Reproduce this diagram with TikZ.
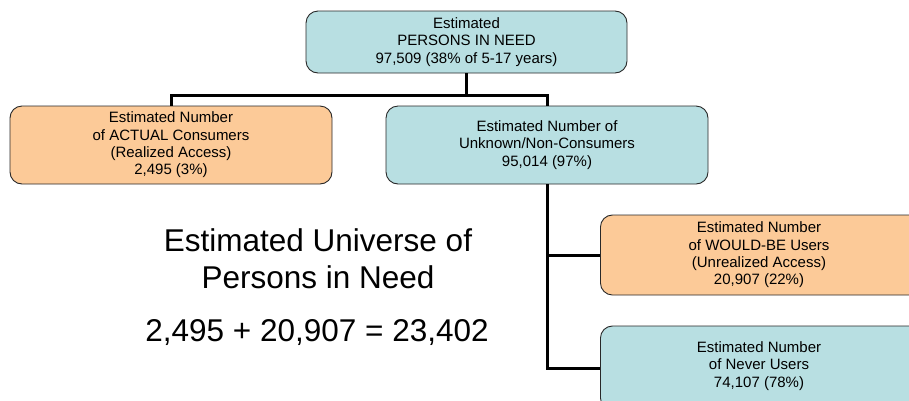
\documentclass[tikz,border=0pt]{standalone}
\usepackage{fontspec}
\setmainfont{Liberation Sans}
\definecolor{tealbox}{RGB}{184,223,226}
\definecolor{orangebox}{RGB}{252,202,152}
\definecolor{edgegray}{RGB}{40,40,40}
\tikzset{
  boxfont/.style={font=\fontsize{15}{17.3}\selectfont},
  box/.style={draw=edgegray, line width=0.9pt, rounded corners=12pt, align=center,
    boxfont, inner sep=0pt},
  tealb/.style={box, fill=tealbox},
  orangeb/.style={box, fill=orangebox},
  conn/.style={line width=3pt, draw=black},
  bigtext/.style={font=\fontsize{31.5}{37}\selectfont, align=center}
}
\begin{document}
\begin{tikzpicture}[x=1pt,y=-1pt]
\useasboundingbox (0,0) rectangle (909,400);
\clip (0,0) rectangle (909,400);
\node[tealb, minimum width=321pt, minimum height=62pt] (top) at (466.5,42) {Estimated\\PERSONS IN NEED\\97,509 (38\% of 5-17 years)};
\node[orangeb, minimum width=322pt, minimum height=78pt] (act) at (171,145) {Estimated Number\\of ACTUAL Consumers\\(Realized Access)\\2,495 (3\%)};
\node[tealb, minimum width=322pt, minimum height=78pt] (unk) at (547,145) {Estimated Number of\\Unknown/Non-Consumers\\95,014 (97\%)};
\node[orangeb, minimum width=330pt, minimum height=80pt, anchor=west] (would) at (600,255) {};
\node[tealb, minimum width=330pt, minimum height=84pt, anchor=west] (never) at (600,368) {};
\node[align=center, boxfont] (wouldt) at (759,255) {Estimated Number\\of WOULD-BE Users\\(Unrealized Access)\\20,907 (22\%)};
\node[align=center, boxfont] (nevert) at (759,366) {Estimated Number\\of Never Users\\74,107 (78\%)};
\draw[conn] (top.south) -- ++(0,22) coordinate (hub) -| (act.north);
\draw[conn] (hub) -| (unk.north);
\draw[conn] (unk.south) |- (would.west);
\draw[conn] (unk.south) |- (never.west);
\node[bigtext] (title) at (318,259) {Estimated Universe of\\Persons in Need};
\node[bigtext] (sum) at (317,333) {2,495 + 20,907 = 23,402};
\end{tikzpicture}
\end{document}
